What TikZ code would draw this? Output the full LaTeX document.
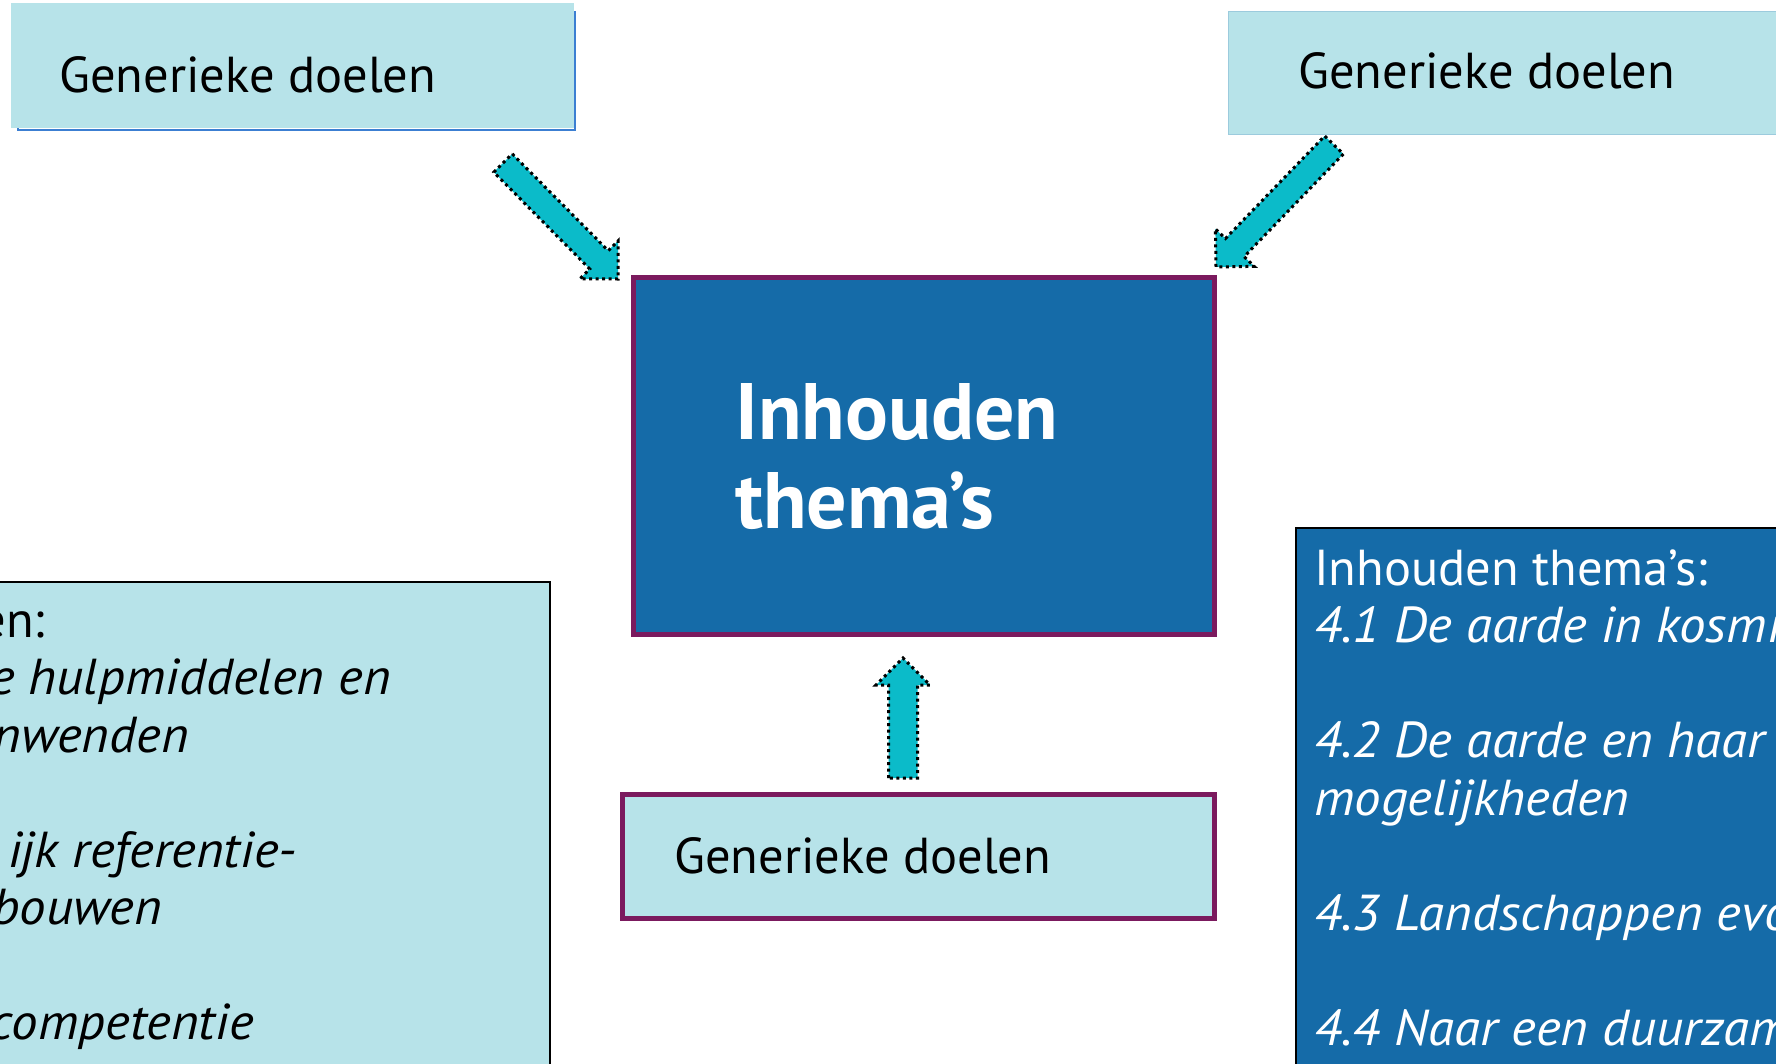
\documentclass[tikz,border=0pt]{standalone}
\usepackage{fontspec}
\setmainfont{PT Sans}[ItalicFeatures={FakeStretch=1.05}]
\usetikzlibrary{calc}
\definecolor{lightbox}{HTML}{B7E3E9}
\definecolor{darkbox}{HTML}{156BA8}
\definecolor{arrowcyan}{HTML}{0BBBC9}
\definecolor{plum}{HTML}{7B1A5E}
\definecolor{edgeblue}{HTML}{3C7FD2}
\definecolor{paleedge}{HTML}{9CCBDD}
\newcommand{\blockarr}[4]{% tail, tip, base name, shaft half width
  \coordinate (#3) at ($(#2)!27pt!(#1)$);
  \draw[blockarrow] ($(#1)!#4pt!90:(#2)$) -- ($(#3)!#4pt!90:(#2)$) -- ($(#3)!27pt!90:(#2)$) -- (#2)
    -- ($(#3)!27pt!-90:(#2)$) -- ($(#3)!#4pt!-90:(#2)$) -- ($(#1)!#4pt!-90:(#2)$) -- cycle;
}
\begin{document}
\begin{tikzpicture}[x=1pt,y=-1pt,
  lightfill/.style={fill=lightbox, inner sep=0pt, anchor=north west},
  txt/.style={anchor=base west, inner sep=0pt, font=\fontsize{50.5}{57.5}\selectfont},
  itxt/.style={txt, font=\fontsize{50.5}{57.5}\selectfont\itshape},
  blockarrow/.style={fill=arrowcyan, draw=black, line width=3pt, dash pattern=on 3pt off 3.5pt, line join=miter}
]
\useasboundingbox (0,0) rectangle (1776,1063);
\clip (0,0) rectangle (1776,1063);

% top left box
\draw[edgeblue, line width=1.6pt] (18,12) rectangle (575,130);
\node[lightfill, minimum width=563pt, minimum height=125pt] (tl) at (11,3) {};
\node[txt] (tlt) at (59,92) {Generieke doelen};

% top right box
\node[lightfill, draw=paleedge, line width=1pt, minimum width=560pt, minimum height=123pt] (tr) at (1228,11) {};
\node[txt] (trt) at (1298,88) {Generieke doelen};

% center box
\node[fill=darkbox, draw=plum, line width=5pt, inner sep=0pt, anchor=north west,
      minimum width=581pt, minimum height=357pt] (ct) at (631,275) {};
\node[anchor=base west, inner sep=0pt, text=white, font=\fontsize{80}{89}\selectfont\bfseries] (ct1) at (735,439) {Inhouden};
\node[anchor=base west, inner sep=0pt, text=white, font=\fontsize{80}{89}\selectfont\bfseries] (ct2) at (735,528) {thema’s};

% bottom center box
\node[lightfill, draw=plum, line width=4.5pt, minimum width=592pt, minimum height=124pt] (bc) at (620,792) {};
\node[txt] (bct) at (674,873) {Generieke doelen};

% left box
\node[lightfill, draw=black, line width=1.6pt, minimum width=560pt, minimum height=500pt] (lb) at (-11,581) {};
\node[txt, anchor=base east] (l1) at (45,637) {en:};
\node[itxt, anchor=base east] (l2) at (391,694.5) {e hulpmiddelen en};
\node[itxt, anchor=base east] (l3) at (189,752) {nwenden};
\node[itxt, anchor=base east] (l4) at (297,867) {ijk referentie-};
\node[itxt, anchor=base east] (l5) at (162,924.5) {bouwen};
\node[itxt, anchor=base east] (l6) at (254,1039.5) {competentie};

% right box
\node[fill=darkbox, draw=black, line width=2pt, inner sep=0pt, anchor=north west,
      minimum width=500pt, minimum height=560pt] (rb) at (1295,527) {};
\begin{scope}[every node/.append style={text=white}]
\node[txt] (r1) at (1314,585) {Inhouden thema’s:};
\node[itxt] (r2) at (1314,642.5) {4.1 De aarde in kosmi};
\node[itxt] (r3) at (1314,757.5) {4.2 De aarde en haar};
\node[itxt] (r4) at (1314,815) {mogelijkheden};
\node[itxt] (r5) at (1314,930) {4.3 Landschappen evo};
\node[itxt] (r6) at (1314,1045) {4.4 Naar een duurzam};
\end{scope}

% arrows
\coordinate (a1t) at (503,163); \coordinate (a1p) at (618,279);
\coordinate (a2t) at (1334,145); \coordinate (a2p) at (1216,267);
\coordinate (a3t) at (903,778); \coordinate (a3p) at (903,658);
\blockarr{a1t}{a1p}{a1b}{13}
\blockarr{a2t}{a2p}{a2b}{13}
\blockarr{a3t}{a3p}{a3b}{14.5}
\end{tikzpicture}
\end{document}
